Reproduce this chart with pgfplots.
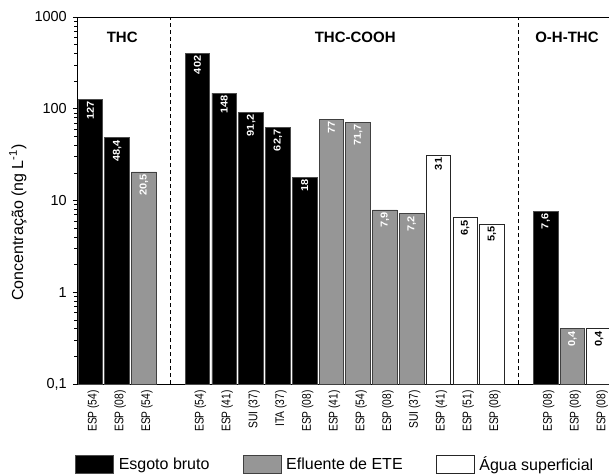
\documentclass[border=0pt]{standalone}
\usepackage{fontspec}
\setmainfont{Liberation Sans}
\usepackage{graphicx}
\usepackage{pgfplots}
\pgfplotsset{compat=1.18}
\usepackage{pgfplotstable}
\definecolor{barg}{RGB}{150,150,150}

\pgfplotstableread{
x y lab
0 127 127
1 48.4 48,4
4 402 402
5 148 148
6 91.2 91,2
7 62.7 62,7
8 18 18
17 7.6 7,6
}\esgoto
\pgfplotstableread{
x y lab
2 20.5 20,5
9 77 77
10 71.7 71,7
11 7.9 7,9
12 7.2 7,2
18 0.4 0,4
}\efluente
\pgfplotstableread{
x y lab
13 31 31
14 6.5 6,5
15 5.5 5,5
19 0.4 0,4
}\agua

\newcommand{\xl}[1]{\scalebox{0.82}[1]{#1}}

\begin{document}
\begin{tikzpicture}
\begin{axis}[
  name=ax,
  width=532pt, height=367pt, scale only axis,
  ymode=log, ymin=0.1, ymax=1000, log origin=infty,
  xmin=-0.5, xmax=19.37,
  axis x line*=box, axis y line*=left,
  axis line style={line width=0.8pt},
  ytick={0.1,1,10,100,1000},
  yticklabels={{0,1},1,10,100,1000},
  tick align=outside,
  major tick length=4pt, minor tick length=2.5pt,
  every tick/.style={black, line width=0.6pt},
  /pgf/number format/assume math mode=true,
  yticklabel style={font=\fontsize{14.5}{16}\selectfont, inner xsep=6pt},
  xtick={0,1,2,4,5,6,7,8,9,10,11,12,13,14,15,17,18,19},
  xticklabels={\xl{ESP (54)},\xl{ESP (08)},\xl{ESP (54)},\xl{ESP (54)},\xl{ESP (41)},\xl{SUI (37)},\xl{ITA (37)},\xl{ESP (08)},\xl{ESP (41)},\xl{ESP (54)},\xl{ESP (08)},\xl{SUI (37)},\xl{ESP (41)},\xl{ESP (51)},\xl{ESP (08)},\xl{ESP (08)},\xl{ESP (08)},\xl{ESP (08)}},
  x tick style={draw=none},
  xticklabel style={rotate=90, anchor=east, font=\fontsize{12.5}{14}\selectfont, inner sep=2pt, yshift=-3pt},
  ylabel={Concentração (ng L\textsuperscript{-1})},
  every axis y label/.style={at={(axis description cs:-0.111,0.44)}, rotate=90, anchor=center, font=\fontsize{16}{18}\selectfont},
  ybar, bar width=0.92, bar shift=0pt,
  point meta=explicit symbolic,
  nodes near coords={\scalebox{1.1}[1]{\pgfplotspointmeta}},
  every node near coord/.append style={rotate=90, anchor=east, font=\bfseries\fontsize{10}{12}\selectfont, inner sep=2pt},
  legend image code/.code={\draw[#1] (0pt,-9pt) rectangle (38pt,9pt);},
  legend columns=3,
  legend style={at={(axis description cs:-0.004,-0.245)}, anchor=south west, draw=none, fill=none,
    font=\fontsize{16}{18}\selectfont, inner sep=0pt,
    /tikz/every even column/.append style={column sep=28pt},
    nodes={inner xsep=5pt}},
]
\addplot[fill=black, draw=black!70, line width=0.7pt, every node near coord/.append style={text=white}] table[x=x, y=y, meta=lab] {\esgoto};
\addlegendentry{Esgoto bruto}
\addplot[fill=barg, draw=black!75, line width=0.7pt, every node near coord/.append style={text=white}] table[x=x, y=y, meta=lab] {\efluente};
\addlegendentry{Efluente de ETE}
\addplot[fill=white, draw=black!85, line width=0.7pt, every node near coord/.append style={text=black}] table[x=x, y=y, meta=lab] {\agua};
\addlegendentry{Água superficial}
\draw[black, line width=0.7pt, dash pattern=on 4pt off 3pt] (axis cs:3,0.1) -- (axis cs:3,1000);
\draw[black, line width=0.7pt, dash pattern=on 4pt off 3pt] (axis cs:16,0.1) -- (axis cs:16,1000);
\node[font=\bfseries\fontsize{15}{17}\selectfont] at (axis cs:1.19,605) {THC};
\node[font=\bfseries\fontsize{15}{17}\selectfont] at (axis cs:9.89,605) {THC-COOH};
\node[font=\bfseries\fontsize{15}{17}\selectfont] at (axis cs:17.8,605) {O-H-THC};
\end{axis}
\pgfresetboundingbox
\path[use as bounding box] ([xshift=-77pt,yshift=-90pt]ax.south west) rectangle ([yshift=17pt]ax.north east);
\end{tikzpicture}
\end{document}
